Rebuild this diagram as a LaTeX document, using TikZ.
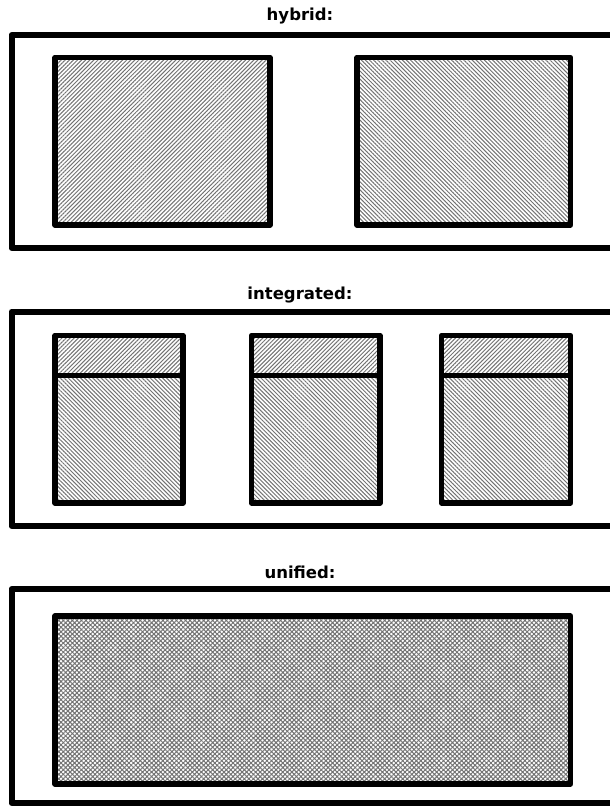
\documentclass[tikz,border=0pt]{standalone}
\usepackage{fontspec}
\setmainfont{DejaVu Sans}
\usetikzlibrary{patterns.meta}
\tikzset{
  outerbox/.style={draw=black, line width=6pt, line join=round},
  innerbox/.style={draw=black, line width=5.5pt, line join=round},
  hatchNE/.style={preaction={fill=white}, pattern={Lines[angle=45,distance=2.9pt,line width=1pt]}, pattern color=black!55},
  hatchNW/.style={preaction={fill=white}, pattern={Lines[angle=-45,distance=2.9pt,line width=1pt]}, pattern color=black!55},
  hatchX/.style={preaction={fill=white}, pattern={Hatch[angle=45,distance=3.2pt,line width=1pt]}, pattern color=black!55},
  title/.style={font=\bfseries\fontsize{16.5}{19}\selectfont, anchor=base}
}
\begin{document}
\begin{tikzpicture}[x=1pt,y=-1pt]
\useasboundingbox (0,0) rectangle (610,806);
% hybrid
\node[title] (thyb) at (300,20) {hybrid:};
\draw[outerbox] (11.5,35) rectangle (640,248);
\draw[innerbox,hatchNE] (55,57.5) rectangle (270,225);
\draw[innerbox,hatchNW] (357,57.5) rectangle (570.5,225);
% integrated
\node[title] (tint) at (300,299) {integrated:};
\draw[outerbox] (11.5,311.5) rectangle (640,526);
\foreach \xa/\xb in {55/183, 251.5/380, 441.5/570.5}{
  \draw[innerbox,hatchNE] (\xa,335.5) rectangle (\xb,375.5);
  \draw[innerbox,hatchNW] (\xa,375.5) rectangle (\xb,503);
}
% unified
\node[title] (tuni) at (300,578) {unified:};
\draw[outerbox] (11.5,589) rectangle (640,803);
\draw[innerbox,hatchX] (55,616) rectangle (570.5,784);
\end{tikzpicture}
\end{document}
